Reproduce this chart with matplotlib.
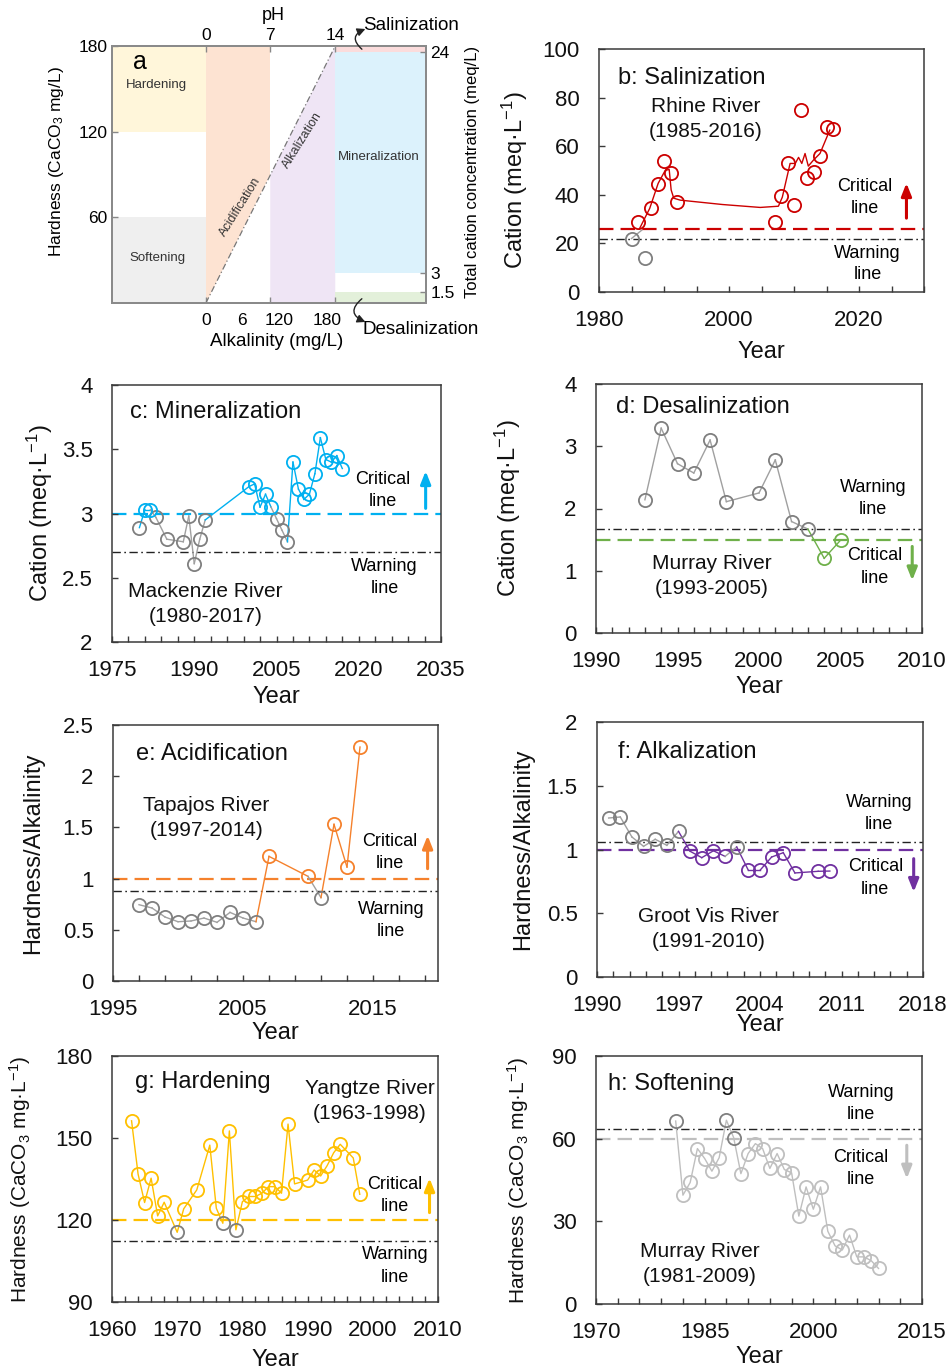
import numpy as np
import matplotlib
matplotlib.use('Agg')
import matplotlib.pyplot as plt
from matplotlib.ticker import MultipleLocator, FuncFormatter
from matplotlib.patches import Rectangle, Polygon, FancyArrowPatch

plt.rcParams['font.family'] = ['Liberation Sans', 'DejaVu Sans']
plt.rcParams['mathtext.fontset'] = 'custom'
plt.rcParams['mathtext.rm'] = 'Liberation Sans'
plt.rcParams['mathtext.it'] = 'Liberation Sans:italic'
plt.rcParams['mathtext.bf'] = 'Liberation Sans:bold'

# ---------------- data ----------------
# b: Rhine River, total cations (meq/L)
rhine_years = [1985, 1986, 1987, 1988, 1989, 1990, 1991, 1992,
               2007, 2008, 2009, 2010, 2011, 2012, 2013, 2014, 2015, 2016]
rhine_cation = [22, 29, 14, 34.5, 44.5, 54, 49, 37,
                29, 39.5, 53, 36, 75, 47, 49.5, 56, 68, 67]
# smoothed trend drawn over the Rhine record
rhine_trend_years = [1986.2, 1987.8, 1989.1, 1990.2, 1990.8, 1991.1, 1991.5, 1992.5,
                     1999.0, 2004.8, 2007.6, 2008.2, 2009.4, 2010.2, 2010.7, 2011.2,
                     2011.7, 2012.2, 2013.0, 2014.0, 2015.5]
rhine_trend = [25.9, 34.4, 44.7, 50.1, 50.4, 42.0, 38.6, 37.8,
               36.0, 34.8, 35.3, 39.0, 52.9, 52.9, 55.4, 52.9,
               57.0, 51.8, 54.3, 57.0, 66.6]

# c: Mackenzie River, cations (meq/L)
mack_years = [1980, 1981, 1982, 1983, 1985, 1988, 1989, 1990, 1991, 1992,
              2000, 2001, 2002, 2003, 2004, 2005, 2006, 2007, 2008, 2009,
              2010, 2011, 2012, 2013, 2014, 2015, 2016, 2017]
mack_cation = [2.89, 3.03, 3.03, 2.97, 2.80, 2.78, 2.98, 2.61, 2.80, 2.95,
               3.21, 3.23, 3.05, 3.15, 3.05, 2.96, 2.87, 2.78, 3.40, 3.19,
               3.11, 3.15, 3.31, 3.59, 3.42, 3.40, 3.45, 3.35]

# d: Murray River, cations (meq/L)
murray_years = [1993, 1994, 1995, 1996, 1997, 1998, 2000, 2001, 2002, 2003, 2004, 2005]
murray_cation = [2.14, 3.29, 2.72, 2.57, 3.10, 2.11, 2.25, 2.78, 1.79, 1.67, 1.20, 1.49]

# e: Tapajos River, hardness/alkalinity
tapajos_years = [1997, 1998, 1999, 2000, 2001, 2002, 2003, 2004, 2005, 2006,
                 2007, 2010, 2011, 2012, 2013, 2014]
tapajos_ratio = [0.745, 0.713, 0.625, 0.579, 0.586, 0.615, 0.573, 0.67, 0.615, 0.579,
                 1.217, 1.022, 0.814, 1.53, 1.113, 2.285]

# f: Groot Vis River, hardness/alkalinity
grootvis_years = [1991, 1992, 1993, 1994, 1995, 1996, 1997, 1998, 1999, 2000,
                  2001, 2002, 2003, 2004, 2005, 2006, 2007, 2009, 2010]
grootvis_ratio = [1.247, 1.255, 1.098, 1.025, 1.08, 1.033, 1.142, 0.986, 0.936, 0.99,
                  0.946, 1.02, 0.837, 0.837, 0.941, 0.975, 0.816, 0.829, 0.831]

# g: Yangtze River, hardness (mg/L CaCO3)
yangtze_years = [1963, 1964, 1965, 1966, 1967, 1968, 1970, 1971, 1973, 1975,
                 1976, 1977, 1978, 1979, 1980, 1981, 1982, 1983, 1984, 1985,
                 1986, 1987, 1988, 1990, 1991, 1992, 1993, 1994, 1995, 1997, 1998]
yangtze_hardness = [156.3, 136.8, 126.4, 135.3, 121.5, 126.5, 115.5, 124.1, 131.0, 147.4,
                    124.3, 118.8, 152.6, 116.4, 126.7, 128.6, 128.6, 129.8, 132.2, 132.2,
                    129.8, 155.1, 133.2, 134.6, 138.3, 136.1, 139.9, 144.6, 147.7, 142.7, 129.4]

# h: Murray River, hardness (mg/L CaCO3)
murray_h_years = list(range(1981, 2010))
murray_hardness = [66.4, 39.5, 44.1, 56.4, 52.8, 48.2, 53.1, 66.7, 60.4, 47.3,
                   54.6, 58.2, 56.4, 49.2, 54.6, 48.8, 47.6, 31.9, 42.5, 34.4,
                   42.5, 26.4, 21.1, 19.6, 25.0, 17.1, 17.1, 15.7, 12.9]

# panel a: scale labels
pH_labels = ['0', '7', '14']
alk_labels = ['0', '6', '120', '180']
hard_labels = ['60', '120', '180']
cation_labels = ['24', '3', '1.5']

GRAY = '#7f7f7f'
LINE_GRAY = '#a0a0a0'
SPINE = '#3a3a3a'
RED = '#cc0000'
BLUE = '#00b0f0'
GREEN = '#6fb04a'
ORANGE = '#f5812c'
PURPLE = '#7030a0'
YELLOW = '#ffc000'
LIGHT = '#bfbfbf'

W, H = 952, 1372
fig = plt.figure(figsize=(W / 100, H / 100), dpi=100)


def add_ax(x0, y0, x1, y1):
    return fig.add_axes([x0 / W, 1 - y1 / H, (x1 - x0) / W, (y1 - y0) / H])


def fx(x):
    return x / W


def fy(y):
    return 1 - y / H


def style_panel(ax, xlim, ylim, xmaj, xmin, ymaj, ylabel, ylab_x, xlab_y, ylab_fs=17):
    ax.set_xlim(*xlim)
    ax.set_ylim(*ylim)
    ax.xaxis.set_major_locator(MultipleLocator(xmaj, offset=xlim[0]))
    ax.xaxis.set_minor_locator(MultipleLocator(xmin, offset=xlim[0]))
    ax.yaxis.set_major_locator(MultipleLocator(ymaj, offset=ylim[0]))
    ax.xaxis.set_major_formatter(FuncFormatter(lambda v, p: '%d' % round(v)))
    ax.yaxis.set_major_formatter(FuncFormatter(lambda v, p: '%g' % round(v, 2)))
    ax.tick_params(which='both', direction='in', length=4.5, width=1, color=SPINE,
                   labelsize=16, labelcolor='#111111')
    ax.tick_params(axis='x', pad=13)
    ax.tick_params(axis='y', pad=14)
    for s in ax.spines.values():
        s.set_color(SPINE)
        s.set_linewidth(1.1)
    ax.set_ylabel(ylabel, fontsize=ylab_fs, va='center', color='#111111')
    ax.yaxis.set_label_coords(ylab_x, 0.5)
    ax.set_xlabel('Year', fontsize=17, va='center', color='#111111')
    ax.xaxis.set_label_coords(0.5, xlab_y)


def thresholds(ax, crit, warn, color):
    ax.axhline(crit, color=color, ls=(0, (6.5, 3.2)), lw=1.6, zorder=1)
    ax.axhline(warn, color='#222222', ls=(0, (6, 2.5, 1.2, 2.5)), lw=1.0, zorder=1)


def draw_series(ax, years, vals, crit, rising, color, whole=False, gray=GRAY):
    years = np.asarray(years, float)
    vals = np.asarray(vals, float)
    hit = vals > crit if rising else vals < crit
    if whole:
        ax.plot(years, vals, color=color, lw=1.0, zorder=2)
    else:
        for i in range(len(years) - 1):
            c = color if hit[i + 1] else LINE_GRAY
            ax.plot(years[i:i + 2], vals[i:i + 2], color=c, lw=1.0, zorder=2)
    ax.plot(years[~hit], vals[~hit], 'o', ms=9.5, mfc='none', mec=gray, mew=1.3, zorder=3)
    ax.plot(years[hit], vals[hit], 'o', ms=9.5, mfc='none', mec=color, mew=1.3, zorder=3)


def labels(ax, title, tpos, river, rpos, crit_pos, warn_pos, arrow, color):
    ax.text(tpos[0], tpos[1], title, fontsize=17, ha='left', va='center', color='#111111')
    ax.text(rpos[0], rpos[1], river[0], fontsize=15, ha='center', va='center', color='#111111')
    ax.text(rpos[0], rpos[2], river[1], fontsize=15, ha='center', va='center', color='#111111')
    ax.text(crit_pos[0], crit_pos[1], 'Critical', fontsize=13, ha='center', va='center')
    ax.text(crit_pos[0], crit_pos[2], 'line', fontsize=13, ha='center', va='center')
    ax.text(warn_pos[0], warn_pos[1], 'Warning', fontsize=13, ha='center', va='center')
    ax.text(warn_pos[0], warn_pos[2], 'line', fontsize=13, ha='center', va='center')
    ax.annotate('', xy=(arrow[0], arrow[2]), xytext=(arrow[0], arrow[1]),
                arrowprops=dict(arrowstyle='-|>,head_length=0.75,head_width=0.3',
                                color=color, lw=2.2, shrinkA=0, shrinkB=0))


# ---------------- a: schematic ----------------
ax = add_ax(112, 46, 426, 303)
ax.set_xlim(0, 1)
ax.set_ylim(0, 180)
x_acid, x_alk, x_min = 0.299, 0.504, 0.711
y_mid = 180 * (x_alk - x_acid) / (x_min - x_acid)
ax.add_patch(Rectangle((0, 120), x_acid, 60, fc='#fff6da', ec='none'))
ax.add_patch(Rectangle((0, 0), x_acid, 60, fc='#efefef', ec='none'))
ax.add_patch(Polygon([(x_acid, 0), (x_acid, 180), (x_alk, 180), (x_alk, y_mid)],
                     fc='#fde3d2', ec='none'))
ax.add_patch(Polygon([(x_alk, y_mid), (x_min, 180), (x_min, 0), (x_alk, 0)],
                     fc='#efe5f5', ec='none'))
ax.add_patch(Rectangle((x_min, 21), 1 - x_min, 175.8 - 21, fc='#dcf2fc', ec='none'))
ax.add_patch(Rectangle((x_min, 175.8), 1 - x_min, 180 - 175.8, fc='#fbdcdc', ec='none'))
ax.add_patch(Rectangle((x_min, 0), 1 - x_min, 7.7, fc='#e3f0da', ec='none'))
ax.plot([x_acid, x_min], [0, 180], color='#777777', lw=0.9, ls=(0, (5, 2, 1, 2)))

ax.text(0.089, 169, 'a', fontsize=18, ha='center', va='center')
ax.text(0.143, 153, 'Hardening', fontsize=9.5, ha='center', va='center', color='#333333')
ax.text(0.146, 31.5, 'Softening', fontsize=9.5, ha='center', va='center', color='#333333')
ax.text(0.850, 102, 'Mineralization', fontsize=9.5, ha='center', va='center', color='#333333')
ax.text(0.408, 67, 'Acidification', fontsize=9, ha='center', va='center', rotation=58,
        color='#333333')
ax.text(0.605, 114, 'Alkalization', fontsize=9, ha='center', va='center', rotation=58,
        color='#333333')

ax.set_yticks([60, 120, 180])
ax.set_yticklabels(hard_labels)
ax.xaxis.remove_overlapping_locs = False
ax.set_xticks([x_acid, x_alk, x_min])
ax.set_xticklabels([])
ax.set_xticks([0.299, 0.413, 0.533, 0.684], minor=True)
ax.set_xticklabels(alk_labels, minor=True)
ax.tick_params(which='major', direction='in', length=4, width=1, color='#888888',
               labelsize=12.5, pad=3)
ax.tick_params(axis='x', which='minor', length=0, labelsize=12.5, pad=7)

axt = ax.twiny()
axt.set_xlim(0, 1)
axt.set_xticks([x_acid, x_alk, x_min])
axt.set_xticklabels(pH_labels)
axt.tick_params(direction='in', length=4, width=1, color='#888888', labelsize=12.5, pad=2)

axr = ax.twinx()
axr.set_ylim(0, 180)
axr.set_yticks([175.8, 21, 7.7])
axr.set_yticklabels(cation_labels)
axr.tick_params(direction='in', length=4, width=1, color='#888888', labelsize=12.5, pad=3)
for a_ in (ax, axt, axr):
    for s in a_.spines.values():
        s.set_color('#8a8a8a')
        s.set_linewidth(1.2)

fig.text(fx(273), fy(15), 'pH', fontsize=13, ha='center', va='center')
fig.text(fx(277), fy(342), 'Alkalinity (mg/L)', fontsize=13.5, ha='center', va='center')
fig.text(fx(57), fy(162), 'Hardness (CaCO$_3$ mg/L)', fontsize=12.5, rotation=90,
         ha='center', va='center')
fig.text(fx(472), fy(172), 'Total cation concentration (meq/L)', fontsize=12, rotation=90,
         ha='center', va='center')
fig.text(fx(363), fy(25), 'Salinization', fontsize=13.5, ha='left', va='center')
fig.text(fx(363), fy(330), 'Desalinization', fontsize=13.5, ha='left', va='center')
fig.add_artist(FancyArrowPatch((fx(364), fy(51)), (fx(368), fy(28)),
                               transform=fig.transFigure, connectionstyle='arc3,rad=-0.9',
                               arrowstyle='-|>,head_length=0.6,head_width=0.3',
                               mutation_scale=8, color='#222222', lw=1.0))
fig.add_artist(FancyArrowPatch((fx(364), fy(297)), (fx(368), fy(323)),
                               transform=fig.transFigure, connectionstyle='arc3,rad=0.9',
                               arrowstyle='-|>,head_length=0.6,head_width=0.3',
                               mutation_scale=8, color='#222222', lw=1.0))

# ---------------- b: salinization ----------------
ax = add_ax(599, 49, 924, 292)
style_panel(ax, (1980, 2030), (0, 100), 20, 5, 20, 'Cation (meq·L$^{-1}$)', -0.258, -0.247)
ax.yaxis.set_label_coords(-0.258, 0.46)
thresholds(ax, 26, 22, RED)
ax.plot(rhine_trend_years, rhine_trend, color=RED, lw=1.0, zorder=2)
ax.plot([rhine_years[0], 1986.6], [rhine_cation[0], 25.5], color=LINE_GRAY, lw=1.0, zorder=2)
yrs = np.array(rhine_years, float)
vals = np.array(rhine_cation, float)
above = vals > 26
ax.plot(yrs[~above], vals[~above], 'o', ms=9.5, mfc='none', mec=GRAY, mew=1.3, zorder=3)
ax.plot(yrs[above], vals[above], 'o', ms=9.5, mfc='none', mec=RED, mew=1.3, zorder=3)
labels(ax, 'b: Salinization', (1983.0, 88), ('Rhine River', '(1985-2016)'),
       (1996.4, 76.3, 66), (2020.9, 43.4, 34.5), (2021.3, 16, 7),
       (2027.3, 30.4, 44.8), RED)

# ---------------- c: mineralization ----------------
ax = add_ax(112, 385, 441, 642)
style_panel(ax, (1975, 2035), (2, 4), 15, 3, 0.5, 'Cation (meq·L$^{-1}$)', -0.219, -0.214)
thresholds(ax, 3.0, 2.7, BLUE)
draw_series(ax, mack_years, mack_cation, 3.0, True, BLUE)
labels(ax, 'c: Mineralization', (1978.2, 3.79), ('Mackenzie River', '(1980-2017)'),
       (1992.0, 2.394, 2.2), (2024.4, 3.267, 3.093), (2024.7, 2.588, 2.414),
       (2032.2, 3.04, 3.33), BLUE)

# ---------------- d: desalinization ----------------
ax = add_ax(596, 384, 922, 633)
style_panel(ax, (1990, 2010), (0, 4), 5, 1, 1, 'Cation (meq·L$^{-1}$)', -0.270, -0.217)
thresholds(ax, 1.5, 1.67, GREEN)
draw_series(ax, murray_years, murray_cation, 1.5, False, GREEN)
labels(ax, 'd: Desalinization', (1991.2, 3.63), ('Murray River', '(1993-2005)'),
       (1997.1, 1.12, 0.72), (2007.1, 1.25, 0.88), (2007.0, 2.34, 1.99),
       (2009.4, 1.39, 0.845), GREEN)

# ---------------- e: acidification ----------------
ax = add_ax(113, 725, 438, 981)
style_panel(ax, (1995, 2020), (0, 2.5), 10, 2, 0.5, 'Hardness/Alkalinity', -0.246, -0.203)
thresholds(ax, 1.0, 0.875, ORANGE)
draw_series(ax, tapajos_years, tapajos_ratio, 1.0, True, ORANGE)
labels(ax, 'e: Acidification', (1996.8, 2.22), ('Tapajos River', '(1997-2014)'),
       (2002.2, 1.715, 1.465), (2016.3, 1.367, 1.146), (2016.4, 0.697, 0.485),
       (2019.2, 1.097, 1.42), ORANGE)

# ---------------- f: alkalization ----------------
ax = add_ax(597, 722, 923, 977)
style_panel(ax, (1990, 2018), (0, 2), 7, 1.4, 0.5, 'Hardness/Alkalinity', -0.227, -0.188)
thresholds(ax, 1.0, 1.06, PURPLE)
draw_series(ax, grootvis_years, grootvis_ratio, 1.0, False, PURPLE)
labels(ax, 'f: Alkalization', (1991.8, 1.765), ('Groot Vis River', '(1991-2010)'),
       (1999.6, 0.476, 0.282), (2013.9, 0.863, 0.685), (2014.2, 1.367, 1.195),
       (2017.2, 0.928, 0.667), PURPLE)

# ---------------- g: hardening ----------------
ax = add_ax(112, 1056, 438, 1302)
style_panel(ax, (1960, 2010), (90, 180), 10, 2, 30, 'Hardness (CaCO$_3$ mg·L$^{-1}$)',
            -0.282, -0.236, ylab_fs=15)
thresholds(ax, 120, 112.5, YELLOW)
draw_series(ax, yangtze_years, yangtze_hardness, 120, True, YELLOW, whole=True)
labels(ax, 'g: Hardening', (1963.6, 170.5), ('Yangtze River', '(1963-1998)'),
       (1999.5, 168.1, 159.0), (2003.4, 133.1, 124.9), (2003.4, 107.3, 99.1),
       (2008.7, 122.7, 135.3), YELLOW)

# ---------------- h: softening ----------------
ax = add_ax(596, 1056, 922, 1304)
style_panel(ax, (1970, 2015), (0, 90), 15, 3, 30, 'Hardness (CaCO$_3$ mg·L$^{-1}$)',
            -0.239, -0.214, ylab_fs=15)
thresholds(ax, 60, 63.5, LIGHT)
draw_series(ax, murray_h_years, murray_hardness, 60, False, LIGHT, whole=True)
labels(ax, 'h: Softening', (1971.7, 80), ('Murray River', '(1981-2009)'),
       (1984.3, 19.2, 9.9), (2006.6, 53.1, 45.2), (2006.6, 76.6, 68.8),
       (2012.9, 57.6, 45.5), LIGHT)

fig.savefig('out.png', dpi=100)
